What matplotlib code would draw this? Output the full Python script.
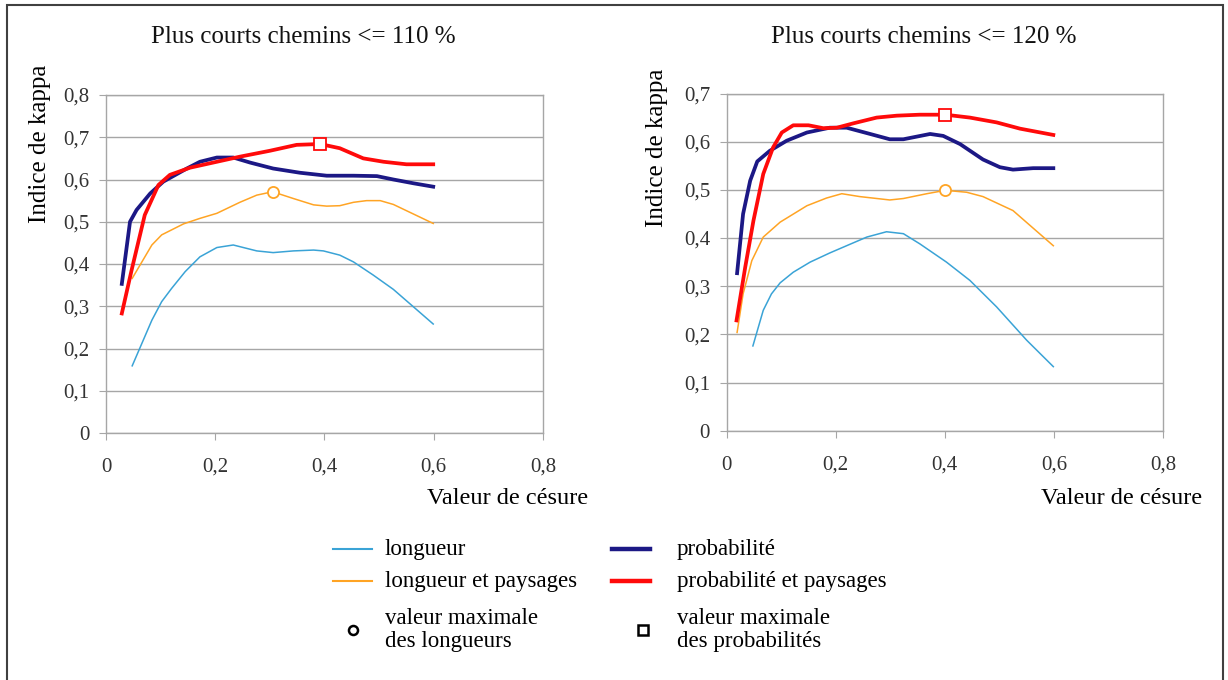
import matplotlib
matplotlib.use('Agg')
import matplotlib.pyplot as plt
from matplotlib.lines import Line2D
from matplotlib.patches import Rectangle

plt.rcParams['font.family'] = ['Liberation Serif', 'DejaVu Serif']

# --- données : plus courts chemins <= 110 %
l110_x = [0.048, 0.084, 0.102, 0.12, 0.145, 0.172, 0.203, 0.233, 0.276, 0.306, 0.343, 0.38, 0.398, 0.428, 0.453, 0.489, 0.526, 0.599]
l110_y = [0.159, 0.267, 0.311, 0.342, 0.382, 0.417, 0.439, 0.445, 0.431, 0.427, 0.431, 0.433, 0.431, 0.421, 0.405, 0.374, 0.340, 0.258]
lp110_x = [0.048, 0.084, 0.102, 0.142, 0.172, 0.203, 0.245, 0.276, 0.305, 0.343, 0.38, 0.404, 0.428, 0.453, 0.477, 0.502, 0.526, 0.599]
lp110_y = [0.366, 0.445, 0.469, 0.495, 0.508, 0.520, 0.546, 0.563, 0.571, 0.555, 0.540, 0.537, 0.538, 0.546, 0.550, 0.550, 0.541, 0.496]
p110_x = [0.029, 0.044, 0.056, 0.081, 0.105, 0.148, 0.172, 0.203, 0.233, 0.264, 0.306, 0.355, 0.404, 0.453, 0.496, 0.526, 0.563, 0.599]
p110_y = [0.353, 0.500, 0.528, 0.567, 0.595, 0.626, 0.642, 0.652, 0.652, 0.640, 0.626, 0.616, 0.609, 0.609, 0.608, 0.600, 0.591, 0.583]
pp110_x = [0.029, 0.047, 0.071, 0.096, 0.117, 0.154, 0.196, 0.245, 0.300, 0.349, 0.392, 0.428, 0.471, 0.508, 0.550, 0.599]
pp110_y = [0.283, 0.386, 0.516, 0.587, 0.611, 0.628, 0.640, 0.654, 0.668, 0.682, 0.684, 0.674, 0.650, 0.642, 0.636, 0.636]
max_l110 = (0.305, 0.571)
max_p110 = (0.392, 0.684)

# --- données : plus courts chemins <= 120 %
l120_x = [0.048, 0.058, 0.067, 0.082, 0.098, 0.122, 0.153, 0.189, 0.226, 0.257, 0.293, 0.324, 0.354, 0.403, 0.446, 0.495, 0.55, 0.599]
l120_y = [0.176, 0.215, 0.250, 0.284, 0.307, 0.329, 0.350, 0.369, 0.387, 0.402, 0.413, 0.409, 0.388, 0.350, 0.312, 0.257, 0.188, 0.133]
lp120_x = [0.019, 0.030, 0.046, 0.067, 0.098, 0.147, 0.183, 0.211, 0.244, 0.299, 0.324, 0.367, 0.401, 0.44, 0.47, 0.525, 0.599]
lp120_y = [0.204, 0.284, 0.353, 0.402, 0.433, 0.467, 0.483, 0.492, 0.486, 0.479, 0.482, 0.492, 0.499, 0.495, 0.486, 0.457, 0.384]
p120_x = [0.019, 0.030, 0.043, 0.056, 0.079, 0.110, 0.147, 0.189, 0.220, 0.263, 0.299, 0.324, 0.373, 0.397, 0.428, 0.470, 0.501, 0.525, 0.562, 0.599]
p120_y = [0.327, 0.450, 0.519, 0.559, 0.581, 0.602, 0.619, 0.629, 0.629, 0.616, 0.605, 0.605, 0.616, 0.612, 0.595, 0.563, 0.547, 0.542, 0.545, 0.545]
pp120_x = [0.018, 0.034, 0.049, 0.067, 0.085, 0.101, 0.122, 0.150, 0.177, 0.202, 0.232, 0.275, 0.312, 0.354, 0.401, 0.446, 0.495, 0.538, 0.599]
pp120_y = [0.229, 0.340, 0.436, 0.533, 0.588, 0.619, 0.634, 0.634, 0.628, 0.629, 0.638, 0.650, 0.654, 0.656, 0.656, 0.650, 0.640, 0.627, 0.614]
max_l120 = (0.401, 0.499)
max_p120 = (0.401, 0.656)

titles = ['Plus courts chemins <= 110 %', 'Plus courts chemins <= 120 %']

c_long = '#3aa3d6'
c_longp = '#ffa424'
c_prob = '#1c1885'
c_probp = '#ff0a0a'
grid_c = '#a6a6a6'

fig = plt.figure(figsize=(12.28, 6.8), dpi=100)
fig.patches.append(Rectangle((0.006, -0.01), 0.990, 1.003, transform=fig.transFigure,
                             fill=False, edgecolor='#404040', linewidth=1.5))

ax1 = fig.add_axes([0.0863, 0.3632, 0.3559, 0.4971])
ax2 = fig.add_axes([0.5918, 0.3666, 0.3552, 0.4959])

sets = [
    (ax1, l110_x, l110_y, lp110_x, lp110_y, p110_x, p110_y, pp110_x, pp110_y, max_l110, max_p110, 0.8),
    (ax2, l120_x, l120_y, lp120_x, lp120_y, p120_x, p120_y, pp120_x, pp120_y, max_l120, max_p120, 0.7),
]

# positions des textes (fraction de la figure)
title_x = [0.2471, 0.7520]
ylab_x = [0.0326, 0.5350]
ylab_y = [0.7880, 0.7830]
xlab_x = [0.4137, 0.9137]

for i, (ax, lx, ly, lpx, lpy, px, py, ppx, ppy, ml, mp, ytop) in enumerate(sets):
    ax.plot(lx, ly, color=c_long, lw=1.1, zorder=3)
    ax.plot(lpx, lpy, color=c_longp, lw=1.1, zorder=3)
    ax.plot(px, py, color=c_prob, lw=2.7, zorder=4, solid_joinstyle='round')
    ax.plot(ppx, ppy, color=c_probp, lw=2.7, zorder=5, solid_joinstyle='round')
    ax.plot([ml[0]], [ml[1]], marker='o', ms=8, mfc='white', mec=c_longp, mew=1.3, zorder=6)
    ax.plot([mp[0]], [mp[1]], marker='s', ms=8, mfc='white', mec=c_probp, mew=1.3, zorder=6)

    ax.set_xlim(0, 0.8)
    ax.set_ylim(0, ytop)
    ax.set_xticks([0, 0.2, 0.4, 0.6, 0.8])
    ax.set_xticklabels(['0', '0,2', '0,4', '0,6', '0,8'])
    yt = [k / 10 for k in range(int(round(ytop * 10)) + 1)]
    ax.set_yticks(yt)
    ax.set_yticklabels(['0' if v == 0 else ('%.1f' % v).replace('.', ',') for v in yt])
    ax.grid(axis='y', color=grid_c, lw=1.0)
    ax.set_axisbelow(True)
    for s in ax.spines.values():
        s.set_color(grid_c)
        s.set_linewidth(1.0)
    ax.tick_params(direction='out', length=5, color=grid_c, labelsize=15,
                   labelcolor='#333333', pad=7)
    ax.tick_params(axis='x', pad=13)

    fig.text(title_x[i], 0.9456, titles[i], fontsize=18, ha='center', va='center', color='#111111')
    fig.text(ylab_x[i], ylab_y[i], 'Indice de kappa', fontsize=18, rotation=90,
             ha='center', va='center')
    fig.text(xlab_x[i], 0.2676, 'Valeur de césure', fontsize=17.5, ha='center', va='center')

# légende construite à la main
leg_fs = 16.5
def fx(px_):
    return px_ / 1228.0
def fy(py_):
    return 1 - py_ / 680.0

leg_lines = [
    (333, 372, 549, c_long, 1.5, 'longueur', 385),
    (333, 372, 581, c_longp, 1.5, 'longueur et paysages', 385),
    (612, 650, 549, c_prob, 3.2, 'probabilité', 677),
    (612, 650, 581, c_probp, 3.2, 'probabilité et paysages', 677),
]
for x0, x1, yy, col, lw, lab, tx in leg_lines:
    fig.add_artist(Line2D([fx(x0), fx(x1)], [fy(yy), fy(yy)], color=col, lw=lw,
                          transform=fig.transFigure))
    fig.text(fx(tx), fy(yy), lab, fontsize=leg_fs, va='center', ha='left')

leg_marks = [
    (353, 'o', 'valeur maximale\ndes longueurs', 385),
    (643, 's', 'valeur maximale\ndes probabilités', 677),
]
for mx, mk, lab, tx in leg_marks:
    fig.add_artist(Line2D([fx(mx)], [fy(630)], ls='none', marker=mk, ms=6.5,
                          mfc='white', mec='black', mew=1.8, transform=fig.transFigure))
    fig.text(fx(tx), fy(630), lab, fontsize=leg_fs, va='center', ha='left', linespacing=1.1)

fig.savefig('out.png', dpi=100)
